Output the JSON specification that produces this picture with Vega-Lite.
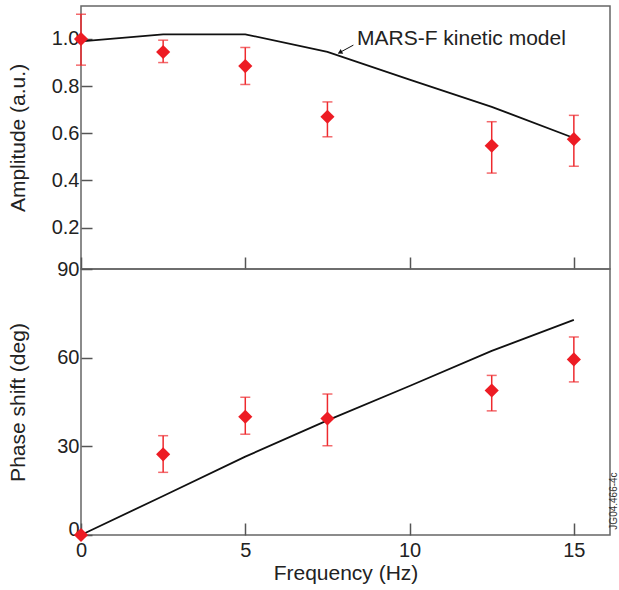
{
  "$schema": "https://vega.github.io/schema/vega-lite/v6.json",
  "padding": {"left": 6, "top": 5, "right": 0, "bottom": 5},
  "spacing": 0,
  "bounds": "flush",
  "config": {
    "font": "Liberation Sans",
    "view": {"stroke": "#666666", "strokeWidth": 1.5},
    "concat": {"spacing": 0},
    "axis": {
      "domain": false, "grid": false,
      "labelFont": "Liberation Sans", "labelFontSize": 20, "labelColor": "#222222",
      "titleFont": "Liberation Sans", "titleFontSize": 21, "titleFontWeight": "normal", "titleColor": "#222222",
      "tickColor": "#555555", "tickWidth": 1.5
    }
  },
  "datasets": {
    "amp": [
      {"f": 0, "v": 1.0, "lo": 0.889, "hi": 1.105},
      {"f": 2.5, "v": 0.945, "lo": 0.90, "hi": 0.995},
      {"f": 5, "v": 0.885, "lo": 0.807, "hi": 0.964},
      {"f": 7.5, "v": 0.67, "lo": 0.585, "hi": 0.733},
      {"f": 12.5, "v": 0.547, "lo": 0.431, "hi": 0.649},
      {"f": 15, "v": 0.575, "lo": 0.46, "hi": 0.676}
    ],
    "ampModel": [
      {"f": 0, "v": 0.99},
      {"f": 2.5, "v": 1.02},
      {"f": 5, "v": 1.02},
      {"f": 7.5, "v": 0.945},
      {"f": 10, "v": 0.828},
      {"f": 12.5, "v": 0.712},
      {"f": 15, "v": 0.58}
    ],
    "phase": [
      {"f": 0, "v": 0, "lo": 0, "hi": 0},
      {"f": 2.5, "v": 27.3, "lo": 21.2, "hi": 33.6},
      {"f": 5, "v": 40.0, "lo": 34.1, "hi": 46.6},
      {"f": 7.5, "v": 39.4, "lo": 30.2, "hi": 47.7},
      {"f": 12.5, "v": 48.9, "lo": 42.0, "hi": 54.0},
      {"f": 15, "v": 59.4, "lo": 51.8, "hi": 67.0}
    ],
    "phaseModel": [
      {"f": 0, "v": 0},
      {"f": 2.5, "v": 13.2},
      {"f": 5, "v": 26.5},
      {"f": 7.5, "v": 38.8},
      {"f": 10, "v": 50.4},
      {"f": 12.5, "v": 62.3},
      {"f": 15, "v": 72.8}
    ],
    "arrow": [{"x1": 8.29, "y1": 0.974, "x2": 7.84, "y2": 0.94}],
    "arrowHead": [{"x": 7.88, "y": 0.943}],
    "label": [{"x": 8.40, "y": 0.974, "text": "MARS-F kinetic model"}],
    "stamp": [{"x": 16.22, "y": 11.5, "text": "JG04.466-4c"}]
  },
  "vconcat": [
    {
      "width": 529,
      "height": 263,
      "layer": [
        {
          "data": {"name": "ampModel"},
          "mark": {"type": "line", "color": "#111111", "strokeWidth": 1.8},
          "encoding": {
            "x": {"field": "f", "type": "quantitative", "scale": {"domain": [0, 16.1], "nice": false, "zero": false},
                  "axis": {"values": [0, 5, 10, 15], "labels": false, "title": null, "tickSize": -12}},
            "y": {"field": "v", "type": "quantitative", "title": "Amplitude (a.u.)",
                  "scale": {"domain": [0.024, 1.14], "nice": false, "zero": false},
                  "axis": {"values": [0.2, 0.4, 0.6, 0.8, 1.0], "format": ".1f", "tickSize": -11, "labelPadding": 13,
                           "title": "Amplitude (a.u.)", "titleX": -63, "titleBaseline": "middle"}}
          }
        },
        {
          "data": {"name": "amp"},
          "mark": {"type": "errorbar", "color": "#ee2a2e", "thickness": 1.5, "ticks": {"size": 10, "thickness": 1.5}},
          "encoding": {
            "x": {"field": "f", "type": "quantitative"},
            "y": {"field": "lo", "type": "quantitative", "title": "Amplitude (a.u.)"},
            "y2": {"field": "hi"}
          }
        },
        {
          "data": {"name": "amp"},
          "mark": {"type": "point", "shape": "diamond", "filled": true, "size": 200, "color": "#ed1c24", "opacity": 1},
          "encoding": {
            "x": {"field": "f", "type": "quantitative"},
            "y": {"field": "v", "type": "quantitative", "title": "Amplitude (a.u.)"}
          }
        },
        {
          "data": {"name": "arrow"},
          "mark": {"type": "rule", "color": "#111111", "strokeWidth": 1},
          "encoding": {
            "x": {"field": "x1", "type": "quantitative"},
            "y": {"field": "y1", "type": "quantitative", "title": "Amplitude (a.u.)"},
            "x2": {"field": "x2"},
            "y2": {"field": "y2"}
          }
        },
        {
          "data": {"name": "arrowHead"},
          "mark": {"type": "point", "shape": "triangle-up", "filled": true, "size": 28, "color": "#111111", "opacity": 1, "angle": 242},
          "encoding": {
            "x": {"field": "x", "type": "quantitative"},
            "y": {"field": "y", "type": "quantitative", "title": "Amplitude (a.u.)"}
          }
        },
        {
          "data": {"name": "label"},
          "mark": {"type": "text", "align": "left", "baseline": "alphabetic", "fontSize": 21, "font": "Liberation Sans", "color": "#222222"},
          "encoding": {
            "x": {"field": "x", "type": "quantitative"},
            "y": {"field": "y", "type": "quantitative", "title": "Amplitude (a.u.)"},
            "text": {"field": "text"}
          }
        }
      ]
    },
    {
      "width": 529,
      "height": 266,
      "layer": [
        {
          "data": {"name": "phaseModel"},
          "mark": {"type": "line", "color": "#111111", "strokeWidth": 1.8},
          "encoding": {
            "x": {"field": "f", "type": "quantitative", "scale": {"domain": [0, 16.1], "nice": false, "zero": false},
                  "axis": {"values": [0, 5, 10, 15], "tickSize": -12, "labelPadding": 17, "labelFlush": false,
                           "title": "Frequency (Hz)", "titleY": 44, "titleBaseline": "alphabetic"}},
            "y": {"field": "v", "type": "quantitative", "title": "Phase shift (deg)",
                  "scale": {"domain": [0, 90], "nice": false, "zero": false},
                  "axis": {"values": [0, 30, 60, 90], "tickSize": -11, "labelPadding": 13,
                           "labelOffset": {"condition": {"test": "datum.value == 0", "value": -6}, "value": 0},
                           "title": "Phase shift (deg)", "titleX": -63, "titleBaseline": "middle"}}
          }
        },
        {
          "data": {"name": "phase"},
          "mark": {"type": "errorbar", "color": "#ee2a2e", "thickness": 1.5, "ticks": {"size": 10, "thickness": 1.5}},
          "encoding": {
            "x": {"field": "f", "type": "quantitative", "title": "Frequency (Hz)"},
            "y": {"field": "lo", "type": "quantitative", "title": "Phase shift (deg)"},
            "y2": {"field": "hi"}
          }
        },
        {
          "data": {"name": "phase"},
          "mark": {"type": "point", "shape": "diamond", "filled": true, "size": 200, "color": "#ed1c24", "opacity": 1},
          "encoding": {
            "x": {"field": "f", "type": "quantitative", "title": "Frequency (Hz)"},
            "y": {"field": "v", "type": "quantitative", "title": "Phase shift (deg)"}
          }
        },
        {
          "data": {"name": "stamp"},
          "mark": {"type": "text", "align": "center", "baseline": "middle", "angle": 270, "fontSize": 10, "font": "Liberation Sans", "color": "#333333"},
          "encoding": {
            "x": {"field": "x", "type": "quantitative", "title": "Frequency (Hz)"},
            "y": {"field": "y", "type": "quantitative", "title": "Phase shift (deg)"},
            "text": {"field": "text"}
          }
        }
      ]
    }
  ]
}
